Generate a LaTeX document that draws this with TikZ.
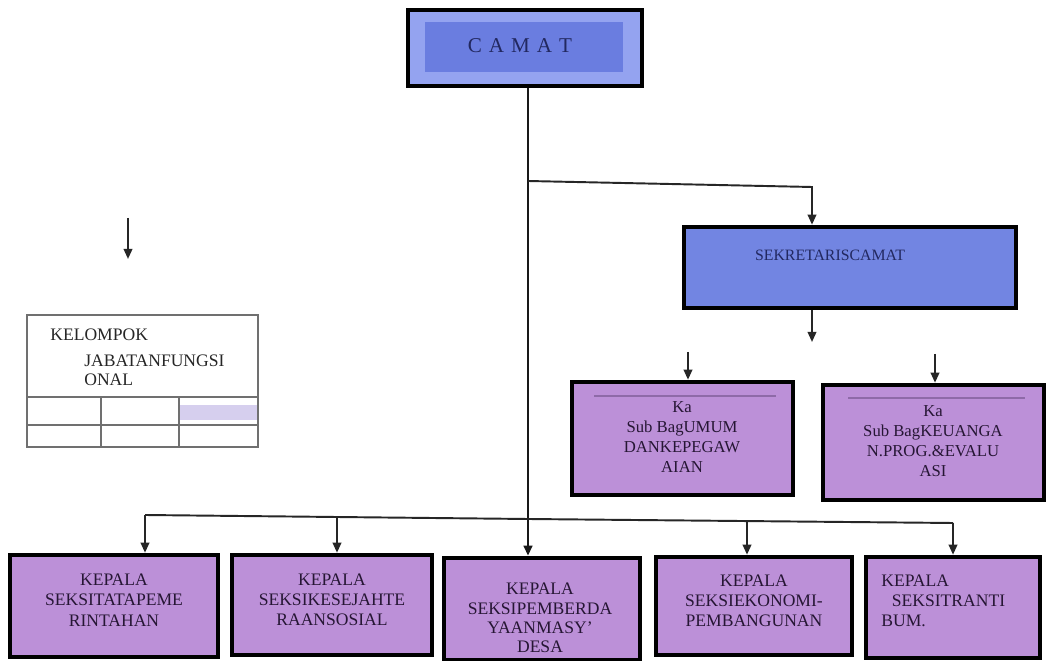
\documentclass[tikz,border=0pt]{standalone}
\usepackage{fontspec}
\setmainfont{Liberation Serif}
\usetikzlibrary{arrows.meta}
\definecolor{camatblue}{HTML}{6A7DE0}
\definecolor{camatlight}{HTML}{94A3F0}
\definecolor{sekblue}{HTML}{7285E2}
\definecolor{unitpurple}{HTML}{BC90D8}
\definecolor{navytext}{HTML}{222860}
\definecolor{purpletext}{HTML}{261634}
\definecolor{tablegray}{HTML}{707070}
\definecolor{cellfill}{HTML}{D6CFEE}
\definecolor{innerline}{HTML}{8E6AA8}
\tikzset{
  x=0.02cm, y=-0.02cm,
  boxbase/.style={draw=black, line width=2.6pt, rectangle, inner sep=0pt},
  bluebox/.style={boxbase, fill=sekblue},
  purplebox/.style={boxbase, fill=unitpurple},
  unittext/.style={text=purpletext, font=\fontsize{10}{11.5}\selectfont, align=center, inner sep=0pt},
  subtext/.style={text=purpletext, font=\fontsize{9.5}{11.5}\selectfont, align=center, inner sep=0pt},
  tabletext/.style={text=black!85, font=\fontsize{10}{11.5}\selectfont, anchor=west, inner sep=0pt},
  conn/.style={line width=1.1pt, draw=black!85},
  mainconn/.style={line width=1.7pt, draw=black!90},
  arr/.style={conn, -{Triangle[length=0.2cm, width=0.17cm]}},
  mainarr/.style={mainconn, -{Triangle[length=0.2cm, width=0.17cm]}},
  tbl/.style={draw=tablegray, line width=0.9pt}
}
\begin{document}
\begin{tikzpicture}
\useasboundingbox (0,0) rectangle (1048,661);
\fill[white] (0,0) rectangle (1048,661);

% CAMAT
\node[boxbase, fill=camatlight, minimum width=4.68cm, minimum height=1.52cm] (camat) at (525,48) {};
\fill[camatblue] (425,22) rectangle (623,72);
\node[text=navytext, font=\fontsize{12}{14}\selectfont, inner sep=0pt] (camattxt) at (520,46) {C\hspace{4pt}A\hspace{4pt}M\hspace{4pt}A\hspace{4pt}T};

% SEKRETARIS
\node[bluebox, minimum width=6.64cm, minimum height=1.62cm] (sek) at (850,267.5) {};
\node[text=navytext, font=\fontsize{9}{10}\selectfont, inner sep=0pt] (sektxt) at (830,255) {SEKRETARISCAMAT};

% Sub bagian boxes
\node[purplebox, minimum width=4.42cm, minimum height=2.26cm] (sub1) at (682.5,438.5) {};
\draw[innerline, line width=0.6pt] (594,396) -- (776,396);
\node[subtext] (sub1txt) at (682,437) {Ka\\Sub BagUMUM\\DANKEPEGAW\\AIAN};
\node[purplebox, minimum width=4.42cm, minimum height=2.3cm] (sub2) at (933.5,442.5) {};
\draw[innerline, line width=0.6pt] (848,398) -- (1025,398);
\node[subtext] (sub2txt) at (933,441) {Ka\\Sub BagKEUANGA\\N.PROG.\&EVALU\\ASI};

% Kelompok jabatan fungsional table
\node[tbl, line width=1.1pt, minimum width=4.62cm, minimum height=2.64cm, inner sep=0pt] (kjf) at (142.5,381) {};
\fill[cellfill] (180,405) rectangle (257,420);
\draw[tbl, line width=1.3pt] (27,397) -- (258,397);
\draw[tbl, line width=1.5pt] (27,425) -- (258,425);
\draw[tbl] (101,397) -- (101,447);
\draw[tbl] (179,397) -- (179,447);
\node[tabletext] (kjf1) at (50,335) {KELOMPOK};
\node[tabletext] (kjf2) at (84,361) {JABATANFUNGSI};
\node[tabletext] (kjf3) at (84,380) {ONAL};

% Bottom boxes
\node[purplebox, minimum width=4.16cm, minimum height=2.04cm] (b1) at (114,606) {};
\node[unittext] (b1txt) at (114,600) {KEPALA\\SEKSITATAPEME\\RINTAHAN};
\node[purplebox, minimum width=4.0cm, minimum height=2.0cm] (b2) at (332,605) {};
\node[unittext] (b2txt) at (332,600) {KEPALA\\SEKSIKESEJAHTE\\RAANSOSIAL};
\node[purplebox, minimum width=3.92cm, minimum height=2.04cm] (b3) at (542,609) {};
\node[unittext, font=\fontsize{10}{11}\selectfont] (b3txt) at (540,618) {KEPALA\\SEKSIPEMBERDA\\YAANMASY'\\DESA};
\node[purplebox, minimum width=3.92cm, minimum height=1.96cm] (b4) at (754,606) {};
\node[unittext] (b4txt) at (754,601) {KEPALA\\SEKSIEKONOMI-\\PEMBANGUNAN};
\node[purplebox, minimum width=3.48cm, minimum height=2.02cm] (b5) at (953,607.5) {};
\node[unittext, align=left, anchor=west] (b5txt) at (881,601) {KEPALA\\\hspace{6pt}SEKSITRANTI\\BUM.};

% Connectors
\coordinate (jtop) at (528,181);
\coordinate (kturn) at (812,187);
\coordinate (jbot) at (528,519);
\draw[mainarr] (camat.south -| jtop) -- (jbot |- b3.north);
\draw[arr] (jtop) -- (kturn) -- (kturn |- sek.north);

\coordinate (bl) at (145,515);
\coordinate (t2) at (337,517);
\coordinate (t4) at (747,521);
\coordinate (br) at (953,523);
\draw[conn] (bl) -- (jbot) -- (br);
\draw[arr] (bl) -- (bl |- b1.north);
\draw[arr] (t2) -- (t2 |- b2.north);
\draw[arr] (t4) -- (t4 |- b4.north);
\draw[arr] (br) -- (br |- b5.north);

% free arrows
\coordinate (s1) at (812,313);
\coordinate (s1e) at (812,342);
\draw[arr] (sek.south -| s1) -- (s1e);
\coordinate (u1) at (688,352);
\draw[arr] (u1) -- (u1 |- sub1.north);
\coordinate (u2) at (935,354);
\draw[arr] (u2) -- (u2 |- sub2.north);
\coordinate (la) at (128,218);
\coordinate (lae) at (128,259);
\draw[arr] (la) -- (lae);
\end{tikzpicture}
\end{document}
